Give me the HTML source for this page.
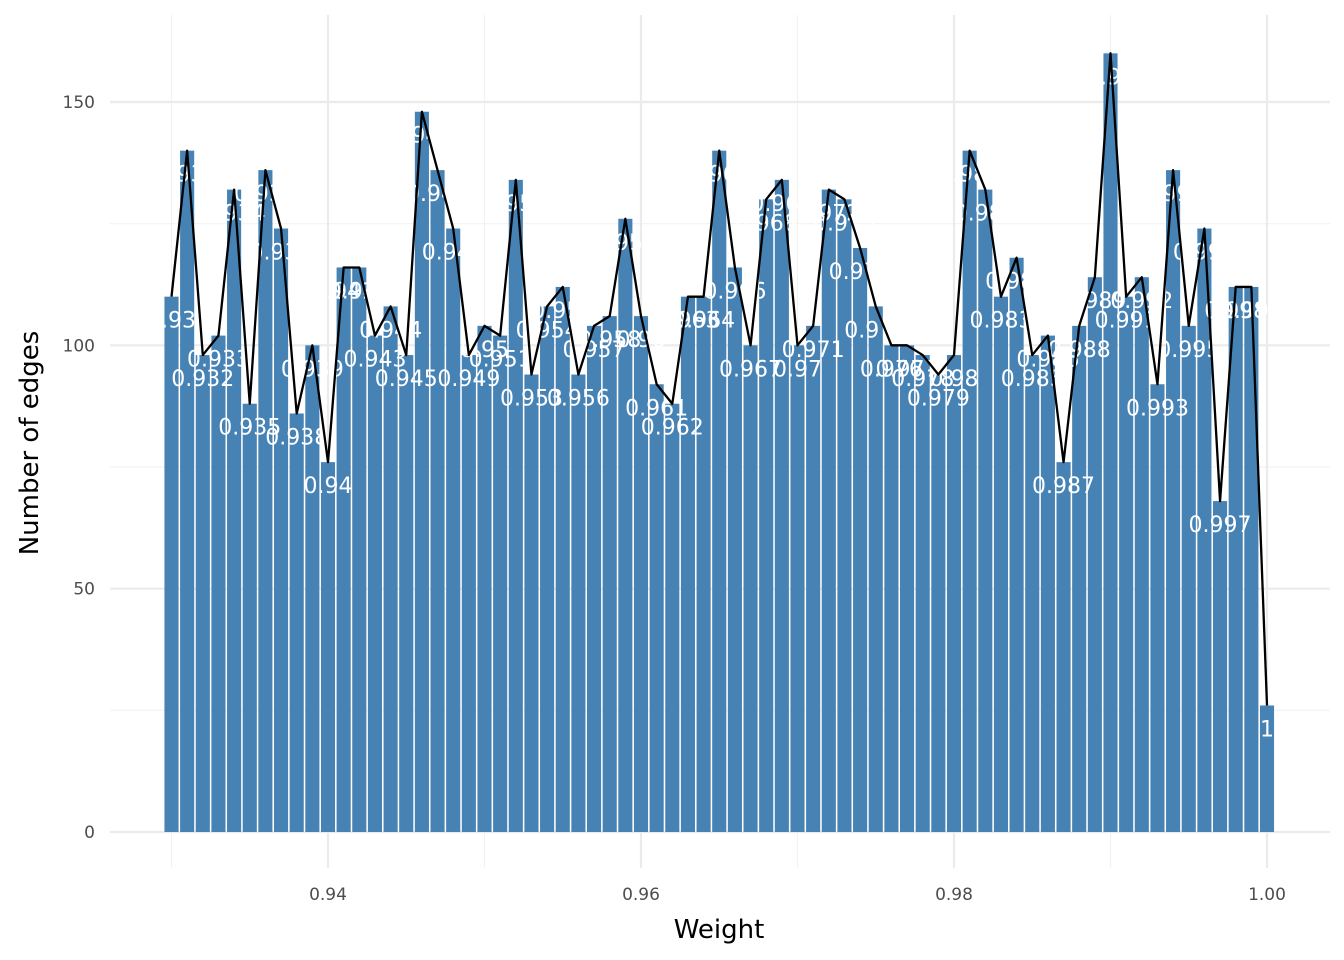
<!DOCTYPE html>
<html><head><meta charset="utf-8"><style>
html,body{margin:0;padding:0;background:#fff;}
svg{display:block;font-family:"DejaVu Sans","Liberation Sans",sans-serif;}
</style></head><body>
<svg id="chart" width="1344" height="960" viewBox="0 0 1344 960" xmlns="http://www.w3.org/2000/svg">
<g id="grid"></g>
<g id="bars"></g>
<g id="labels"></g>
<g id="line"></g>
<g id="axes"></g>
<text x="719" y="938" font-size="26" text-anchor="middle" fill="#000">Weight</text>
<text x="38" y="443" font-size="26" text-anchor="middle" fill="#000" transform="rotate(-90 38 443)">Number of edges</text>
</svg>
<script>
const weights = [0.930,0.931,0.932,0.933,0.934,0.935,0.936,0.937,0.938,0.939,0.940,0.941,0.942,0.943,0.944,0.945,0.946,0.947,0.948,0.949,0.950,0.951,0.952,0.953,0.954,0.955,0.956,0.957,0.958,0.959,0.960,0.961,0.962,0.963,0.964,0.965,0.966,0.967,0.968,0.969,0.970,0.971,0.972,0.973,0.974,0.975,0.976,0.977,0.978,0.979,0.980,0.981,0.982,0.983,0.984,0.985,0.986,0.987,0.988,0.989,0.990,0.991,0.992,0.993,0.994,0.995,0.996,0.997,0.998,0.999,1.000];
const counts = [110,140,98,102,132,88,136,124,86,100,76,116,116,102,108,98,148,136,124,98,104,102,134,94,108,112,94,104,106,126,106,92,88,110,110,140,116,100,130,134,100,104,132,130,120,108,100,100,98,94,98,140,132,110,118,98,102,76,104,114,160,110,114,92,136,104,124,68,112,112,26];
const yTicks = [0,50,100,150];
const yMinor = [25,75,125];
const xTicks = [0.94,0.96,0.98,1.00];
const xMinor = [0.93,0.95,0.97,0.99];
const xTickLabels = ["0.94","0.96","0.98","1.00"];

const NS="http://www.w3.org/2000/svg";
const x = v => 171.5 + (v-0.930)/0.001*15.65;
const y = v => 832 - v*4.8667;
const bw = 14.1;
function mk(tag, parent, attrs){const e=document.createElementNS(NS,tag);for(const k in attrs)e.setAttribute(k,attrs[k]);document.getElementById(parent).appendChild(e);return e;}

yMinor.forEach(t=>{const l=mk('line','grid',{x1:110,x2:1330,y1:y(t),y2:y(t),stroke:'#f2f2f2','stroke-width':1.2});

});
xMinor.forEach(t=>{const l=mk('line','grid',{x1:x(t),x2:x(t),y1:15,y2:868,stroke:'#f2f2f2','stroke-width':1.2});

});
yTicks.forEach(t=>{const l=mk('line','grid',{x1:110,x2:1330,y1:y(t),y2:y(t),stroke:'#ebebeb','stroke-width':2.2});


const tx=mk('text','axes',{x:95,y:y(t)+6,'font-size':17,'text-anchor':'end',fill:'#4d4d4d'});tx.textContent=String(t);

});
xTicks.forEach((t,i)=>{const l=mk('line','grid',{x1:x(t),x2:x(t),y1:15,y2:868,stroke:'#ebebeb','stroke-width':2.2});


const tx=mk('text','axes',{x:x(t),y:900,'font-size':17,'text-anchor':'middle',fill:'#4d4d4d'});tx.textContent=xTickLabels[i];

});

weights.forEach((w,i)=>{
const r=mk('rect','bars',{x:x(w)-bw/2,y:y(counts[i]),width:bw,height:y(0)-y(counts[i]),fill:'#4682b4'});


const t=mk('text','labels',{x:x(w),y:y(counts[i])+31,'font-size':22,'text-anchor':'middle',fill:'#fff'});
t.textContent=String(parseFloat(w.toFixed(3)));


});
const pts=weights.map((w,i)=>x(w)+','+y(counts[i])).join(' ');
const pl=mk('polyline','line',{points:pts,fill:'none',stroke:'#000','stroke-width':2.3,'stroke-linejoin':'round'});


</script>
</body></html>
